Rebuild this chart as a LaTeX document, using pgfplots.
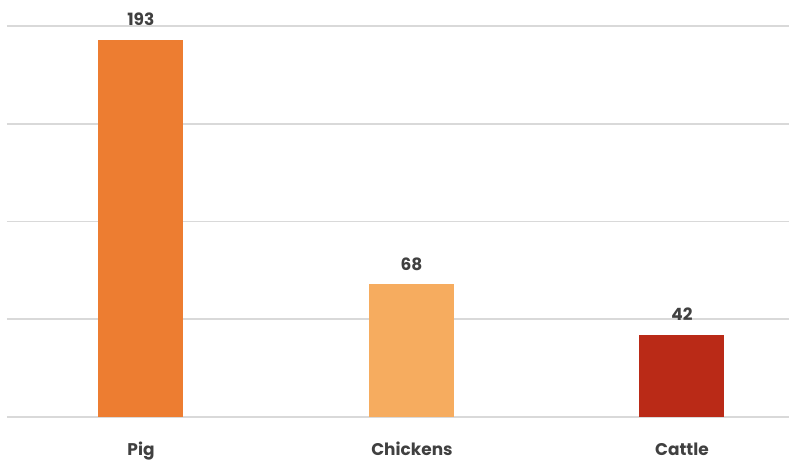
\documentclass[border=0pt]{standalone}
\usepackage{pgfplots}
\pgfplotsset{compat=1.18}
\usepackage{fontspec}
\setmainfont{Poppins}
\definecolor{pigc}{HTML}{ED7D31}
\definecolor{chickc}{HTML}{F6AC5F}
\definecolor{cattlec}{HTML}{BA2A17}
\definecolor{txt}{HTML}{404040}
\definecolor{gridc}{HTML}{D9D9D9}
\begin{document}
\begin{tikzpicture}
\begin{axis}[
  scale only axis,
  width=782bp, height=391bp,
  xmin=-0.495, xmax=2.396,
  ymin=0, ymax=200,
  ytick={0,50,100,150,200},
  yticklabels={},
  ymajorgrids,
  major grid style={gridc, line width=1.6bp},
  axis line style={draw=none},
  xtick={0,1,2},
  xticklabels={},
  major tick length=0pt,
  /pgf/number format/assume math mode=true,
  ybar, bar width=85bp, bar shift=0pt,
  nodes near coords={\textbf{\pgfmathprintnumber{\pgfplotspointmeta}}},
  every node near coord/.append style={font=\fontsize{17}{19}\selectfont, text=txt, inner sep=0pt, anchor=base, yshift=14bp},
  clip=false,
]
\addplot[draw=none, fill=pigc] coordinates {(0,193)};
\addplot[draw=none, fill=chickc] coordinates {(1,68)};
\addplot[draw=none, fill=cattlec] coordinates {(2,42)};
\end{axis}
\begin{scope}[font=\bfseries\fontsize{17}{19}\selectfont, text=txt]
\node[anchor=base, inner sep=0pt] at (134bp,-38bp) {Pig};
\node[anchor=base, inner sep=0pt] at (405bp,-38bp) {Chickens};
\node[anchor=base, inner sep=0pt] at (675bp,-38bp) {Cattle};
\end{scope}
\pgfresetboundingbox
\useasboundingbox (-7bp,-47bp) rectangle (782bp,417bp);
\end{tikzpicture}
\end{document}
